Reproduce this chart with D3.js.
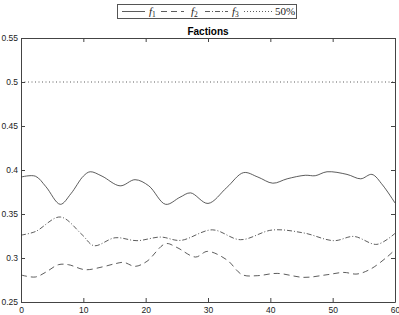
<!DOCTYPE html>
<meta charset="utf-8">
<html>
<head>
<script src="https://d3js.org/d3.v7.min.js"></script>
<style>
  body { margin: 0; background: #fff; }
  text { font-family: "Liberation Sans", Arial, sans-serif; }
</style>
</head>
<body>
<div id="chart"></div>
<script>
  // series keypoints
  const f1X = [0, 2.3, 4, 6.3, 8, 10, 11.1, 13, 15.9, 18.3, 20.5, 23.2, 25.5, 27.2, 30, 33, 35.7, 38, 40.4, 42.7, 45.6, 47.2, 49.1, 52.3, 54.5, 56.3, 58, 60];
  const f1Y = [0.392, 0.393, 0.381, 0.361, 0.373, 0.393, 0.398, 0.393, 0.382, 0.389, 0.382, 0.361, 0.369, 0.374, 0.362, 0.380, 0.397, 0.392, 0.385, 0.390, 0.394, 0.3935, 0.398, 0.395, 0.390, 0.395, 0.383, 0.3625];

  const f2X = [0, 2.3, 4, 6, 7.6, 10.3, 13, 15.1, 16.5, 18.3, 20.2, 23.2, 25, 28, 29.9, 33, 35.5, 37.9, 41.1, 45.4, 49.1, 51.8, 53.9, 56.1, 58.7, 60];
  const f2Y = [0.2807, 0.2784, 0.284, 0.2924, 0.2924, 0.2867, 0.2898, 0.2935, 0.295, 0.2905, 0.2962, 0.3163, 0.312, 0.3011, 0.3075, 0.298, 0.281, 0.2799, 0.2825, 0.278, 0.281, 0.2836, 0.2818, 0.2875, 0.301, 0.3094];

  const f3X = [0, 2.3, 6.3, 9.8, 11.7, 15.1, 18.6, 22.4, 25.6, 30.7, 35.2, 40.3, 45.4, 50.2, 53.4, 57.1, 60];
  const f3Y = [0.326, 0.330, 0.3466, 0.3265, 0.314, 0.323, 0.3197, 0.3238, 0.320, 0.332, 0.3208, 0.3318, 0.3284, 0.3197, 0.3245, 0.3155, 0.328];

  const refLevel = 0.5;
  const xTicks = [0, 10, 20, 30, 40, 50, 60];
  const yTicks = [0.25, 0.3, 0.35, 0.4, 0.45, 0.5, 0.55];

  const W = 399, H = 315;
  const margin = {top: 38, right: 4, bottom: 13, left: 21};
  const width = W - margin.left - margin.right,
        height = H - margin.top - margin.bottom;

  const svg = d3.select("#chart").append("svg")
      .attr("width", W).attr("height", H);
  const g = svg.append("g")
      .attr("transform", `translate(${margin.left},${margin.top})`);

  const x = d3.scaleLinear().domain([0, 60]).range([0, width]);
  const y = d3.scaleLinear().domain([0.25, 0.55]).range([height, 0]);

  const axisCol = "#444";
  const lineCol = "#333";

  // axes, ticks inward on all four sides
  const fmt = d => d3.format("~g")(d);
  const xb = g.append("g").attr("transform", `translate(0,${height})`)
    .call(d3.axisBottom(x).tickValues(xTicks).tickSizeInner(-4).tickSizeOuter(0).tickPadding(5).tickFormat(fmt));
  const xt = g.append("g")
    .call(d3.axisTop(x).tickValues(xTicks).tickSizeInner(-4).tickSizeOuter(0).tickFormat(""));
  const yl = g.append("g")
    .call(d3.axisLeft(y).tickValues(yTicks).tickSizeInner(-4).tickSizeOuter(0).tickPadding(3).tickFormat(fmt));
  const yr = g.append("g").attr("transform", `translate(${width},0)`)
    .call(d3.axisRight(y).tickValues(yTicks).tickSizeInner(-4).tickSizeOuter(0).tickFormat(""));
  [xb, xt, yl, yr].forEach(a => {
    a.selectAll("path").attr("stroke", axisCol).attr("stroke-width", 1);
    a.selectAll("line").attr("stroke", axisCol);
    a.selectAll("text").attr("fill", "#222").style("font-size", "8.5px")
      .style("font-family", "'Liberation Sans', Arial, sans-serif");
  });

  const line = d3.line()
    .x(d => x(d[0])).y(d => y(d[1]))
    .curve(d3.curveCatmullRom.alpha(0.5));

  const series = [
    {name: "1", xs: f1X, ys: f1Y, dash: null},
    {name: "2", xs: f2X, ys: f2Y, dash: "6,4"},
    {name: "3", xs: f3X, ys: f3Y, dash: "5,2,1,2"}
  ];

  series.forEach(s => {
    g.append("path")
      .datum(s.xs.map((v, i) => [v, s.ys[i]]))
      .attr("fill", "none")
      .attr("stroke", lineCol)
      .attr("stroke-width", 0.8)
      .attr("stroke-dasharray", s.dash)
      .attr("d", line);
  });

  // 50% reference line
  g.append("line")
    .attr("x1", x(0)).attr("x2", x(60))
    .attr("y1", y(refLevel)).attr("y2", y(refLevel))
    .attr("stroke", lineCol).attr("stroke-width", 0.8)
    .attr("stroke-dasharray", "1,2.5");

  // title
  svg.append("text")
    .attr("x", margin.left + width / 2).attr("y", 35)
    .attr("text-anchor", "middle")
    .style("font-size", "10px").style("font-weight", "bold")
    .text("Factions");

  // legend
  const leg = svg.append("g");
  leg.append("rect")
    .attr("x", 117.5).attr("y", 4.5).attr("width", 179).attr("height", 14)
    .attr("fill", "#fff").attr("stroke", "#555").attr("stroke-width", 1);

  const legItems = [
    {x0: 122, x1: 145, tx: 149, dash: null, sub: "1"},
    {x0: 161, x1: 184, tx: 191, dash: "6,4", sub: "2"},
    {x0: 205, x1: 228, tx: 232, dash: "5,2,1,2", sub: "3"},
    {x0: 244, x1: 272, tx: 275, dash: "1,2", sub: null}
  ];
  legItems.forEach(d => {
    leg.append("line")
      .attr("x1", d.x0).attr("x2", d.x1).attr("y1", 11.5).attr("y2", 11.5)
      .attr("stroke", lineCol).attr("stroke-width", 0.8)
      .attr("stroke-dasharray", d.dash);
    const t = leg.append("text")
      .attr("x", d.tx).attr("y", 15)
      .attr("fill", "#222")
      .style("font-family", "'Liberation Serif', 'DejaVu Serif', serif")
      .style("font-size", "11px");
    if (d.sub) {
      t.append("tspan").style("font-style", "italic").text("f");
      t.append("tspan").attr("dy", 2).style("font-size", "7.5px").text(d.sub);
    } else {
      t.text("50%");
    }
  });
</script>
</body>
</html>
